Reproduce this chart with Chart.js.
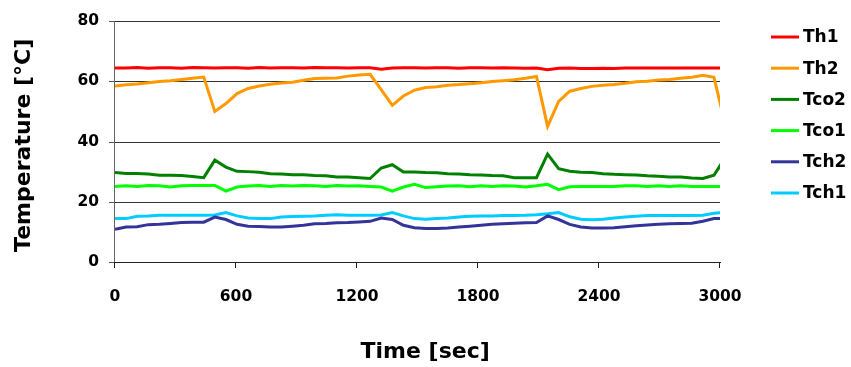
<!DOCTYPE html>
<html>
<head>
<meta charset="utf-8">
<script src="https://cdn.jsdelivr.net/npm/chart.js@4/dist/chart.umd.min.js"></script>
<style>
  html, body { margin: 0; padding: 0; background: #fff; }
  #wrap { width: 851px; height: 367px; position: relative; }
</style>
</head>
<body>
<div id="wrap"><canvas id="c" width="851" height="367"></canvas></div>
<script>
// ---- data ----
const timeSec = [0,55,110,165,220,275,330,385,440,495,550,605,660,715,770,825,880,935,990,1045,1100,1155,1210,1265,1320,1375,1430,1485,1540,1595,1650,1705,1760,1815,1870,1925,1980,2035,2090,2145,2200,2255,2310,2365,2420,2475,2530,2585,2640,2695,2750,2805,2860,2915,2970,3025];

const seriesNames = ["Th1", "Th2", "Tco2", "Tco1", "Tch2", "Tch1"];

const th1 = [64.4,64.4,64.6,64.3,64.5,64.5,64.3,64.6,64.5,64.4, 64.5,64.5,64.3,64.6,64.4,64.5,64.5,64.4,64.6,64.5, 64.5,64.4,64.5,64.5,64.0,64.4,64.5,64.5,64.4,64.5, 64.5,64.3,64.5,64.5,64.4,64.5,64.4,64.3,64.4,63.8, 64.3,64.4,64.2,64.2,64.3,64.2,64.4,64.4,64.4,64.4, 64.4,64.4,64.4,64.4,64.4,64.4];
const th2 = [58.4,58.8,59.1,59.5,59.9,60.2,60.6,61.0,61.4,50.0, 52.6,55.9,57.6,58.4,59.0,59.4,59.7,60.3,60.9,61.0, 61.1,61.7,62.1,62.3,57.2,52.0,55.1,57.0,57.9,58.2, 58.7,58.9,59.2,59.5,59.9,60.2,60.5,61.0,61.6,45.0, 53.3,56.7,57.6,58.3,58.7,58.9,59.3,59.8,60.0,60.4, 60.6,61.0,61.3,62.0,61.3,46.0];
const tco2 = [29.7,29.4,29.4,29.2,28.8,28.8,28.7,28.4,28.0,33.8, 31.5,30.1,30.0,29.8,29.3,29.2,29.0,29.0,28.7,28.6, 28.2,28.2,28.0,27.7,31.2,32.3,29.9,29.9,29.7,29.6, 29.3,29.2,29.0,28.9,28.7,28.6,28.0,28.0,28.0,35.8, 31.0,30.1,29.8,29.7,29.3,29.1,29.0,28.9,28.6,28.5, 28.2,28.2,27.9,27.7,28.8,34.5];
const tco1 = [25.1,25.3,25.1,25.4,25.3,24.9,25.3,25.4,25.4,25.4, 23.5,24.9,25.2,25.4,25.1,25.4,25.2,25.4,25.3,25.1, 25.4,25.2,25.3,25.1,24.9,23.5,24.9,25.8,24.7,25.0, 25.2,25.3,25.0,25.3,25.1,25.3,25.2,24.9,25.3,25.8, 24.0,25.0,25.1,25.1,25.1,25.1,25.3,25.3,25.1,25.3, 25.1,25.3,25.1,25.1,25.1,25.1];
const tch2 = [10.9,11.6,11.7,12.4,12.5,12.8,13.1,13.2,13.2,14.9, 14.1,12.5,11.9,11.8,11.6,11.6,11.9,12.2,12.7,12.8, 13.0,13.1,13.3,13.5,14.6,14.1,12.2,11.4,11.1,11.1, 11.3,11.6,11.9,12.2,12.5,12.7,12.9,13.0,13.1,15.3, 14.1,12.5,11.6,11.3,11.3,11.4,11.7,12.0,12.3,12.5, 12.7,12.8,12.9,13.5,14.4,14.5];
const tch1 = [14.4,14.4,15.2,15.3,15.5,15.5,15.5,15.5,15.5,15.6, 16.4,15.3,14.6,14.4,14.4,14.9,15.1,15.2,15.3,15.5, 15.7,15.5,15.5,15.5,15.6,16.4,15.3,14.4,14.2,14.4, 14.6,14.9,15.2,15.3,15.3,15.4,15.4,15.5,15.7,16.0, 16.4,15.0,14.2,14.0,14.2,14.6,14.9,15.2,15.4,15.4, 15.4,15.4,15.4,15.5,16.2,16.4];

const xTickStep = 600;   // x ticks: 0, 600, 1200, 1800, 2400, 3000
const yTickStep = 20;    // y ticks: 0, 20, 40, 60, 80
const xTitle = "Time [sec]";
const yTitle = "Temperature [°C]";

// ---- styles ----
const colors = ["#FF0000", "#FF9900", "#008000", "#00FF00", "#333399", "#00CCFF"];
const values = [th1, th2, tco2, tco1, tch2, tch1];
const FONT = "'DejaVu Sans', Verdana, sans-serif";

const datasets = seriesNames.map((name, k) => ({
  label: name,
  data: timeSec.map((t, i) => ({ x: t, y: values[k][i] })),
  borderColor: colors[k],
  backgroundColor: colors[k],
  borderWidth: 3,
  pointRadius: 0,
  tension: 0,
  fill: false
}));

// grid lines, axis lines and tick marks, drawn from the library's scales
const axesPlugin = {
  id: 'excelAxes',
  beforeDatasetsDraw(chart) {
    const ctx = chart.ctx;
    const xs = chart.scales.x, ys = chart.scales.y;
    const a = chart.chartArea;
    const L = Math.round(a.left), R = Math.round(a.right), B = Math.round(a.bottom);
    ctx.save();
    ys.ticks.forEach(t => {
      const y = Math.round(ys.getPixelForValue(t.value));
      ctx.fillStyle = '#333';
      if (t.value !== 0) ctx.fillRect(L, y, R - L, 1);
      ctx.fillStyle = '#555';
      ctx.fillRect(L - 6, y, 6, 1);
    });
    ctx.fillStyle = '#666';
    ctx.fillRect(L - 1, Math.round(a.top), 1, B - Math.round(a.top) + 1);
    ctx.fillStyle = '#222';
    ctx.fillRect(L - 1, B, R - L + 2, 1);
    xs.ticks.forEach(t => {
      const x = Math.round(xs.getPixelForValue(t.value));
      ctx.fillRect(x - 1, B, 1, 6);
    });
    ctx.restore();
  }
};

const legendPlugin = {
  id: 'sideLegend',
  afterDraw(chart) {
    const ctx = chart.ctx;
    ctx.save();
    ctx.font = "bold 17px " + FONT;
    ctx.textBaseline = 'middle';
    ctx.textAlign = 'left';
    chart.data.datasets.forEach((ds, i) => {
      const y = 37 + i * 31.2;
      ctx.strokeStyle = ds.borderColor;
      ctx.lineWidth = 3;
      ctx.beginPath();
      ctx.moveTo(771, y);
      ctx.lineTo(799, y);
      ctx.stroke();
      ctx.fillStyle = '#000';
      ctx.fillText(ds.label, 803, y + 1);
    });
    ctx.restore();
  }
};

new Chart(document.getElementById('c'), {
  type: 'line',
  data: { datasets },
  plugins: [axesPlugin, legendPlugin],
  options: {
    responsive: false,
    animation: false,
    devicePixelRatio: 1,
    layout: { padding: { left: 0, right: 131, top: 21, bottom: 0 } },
    plugins: { legend: { display: false }, tooltip: { enabled: false } },
    scales: {
      x: {
        type: 'linear',
        min: 0, max: 3000,
        afterFit: (s) => { s.height = 105; },
        ticks: {
          stepSize: xTickStep,
          callback: (v) => String(v),
          color: '#000', font: { family: FONT, size: 15.5, weight: 'bold' }, padding: 26, maxRotation: 0
        },
        grid: { display: false, drawTicks: false },
        border: { display: false },
        title: { display: true, text: "  " + xTitle, color: '#000', font: { family: FONT, size: 22, weight: 'bold' }, padding: { top: 0, bottom: 2 } }
      },
      y: {
        type: 'linear',
        min: 0, max: 80,
        afterFit: (s) => { s.width = 115; s.paddingTop = 0; s.paddingBottom = 0; },
        ticks: {
          stepSize: yTickStep,
          callback: (v) => String(v),
          color: '#000', font: { family: FONT, size: 15.5, weight: 'bold' }, padding: 16
        },
        grid: { display: false, drawTicks: false },
        border: { display: false },
        title: { display: true, text: yTitle + " ", color: '#000', font: { family: FONT, size: 22, weight: 'bold' }, padding: { top: 11, bottom: 0 } }
      }
    }
  }
});
</script>
</body>
</html>
